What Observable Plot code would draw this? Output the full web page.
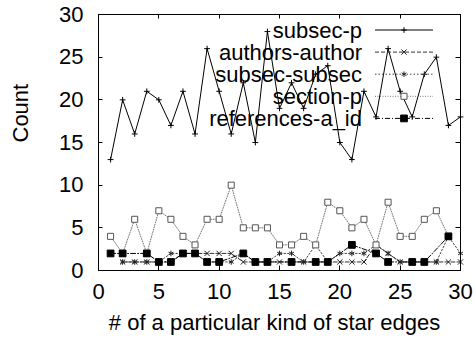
<!DOCTYPE html>
<html><head><meta charset="utf-8">
<script src="https://cdn.jsdelivr.net/npm/d3@7"></script>
<script src="https://cdn.jsdelivr.net/npm/@observablehq/plot@0.6"></script>
<style>body{margin:0;background:#fff} svg{display:block}</style>
</head><body><div id="chart"></div>
<script>
// ---- data ----
const seriesNames = ["subsec-p", "authors-author", "subsec-subsec", "section-p", "references-a_id"];

const subsecPX = [1,2,3,4,5,6,7,8,9,10,11,12,13,14,15,16,17,18,19,20,21,22,23,24,25,26,27,28,29,30];
const subsecP  = [13,20,16,21,20,17,21,16,26,21,16,22,15,28,19,22,19,23,24,15,13,21,18,26,21,18,23,25,17,18];

const authorsX = [2,3,4,5,6,7,8,9,10,11,12,13,14,15,16,17,18,19,20,21,22,23,24,25,26,27,28,29,30];
const authors  = [1,1,1,1,1,2,2,2,2,2,1,1,1,1,1,1,1,1,1,1,1,3,2,1,1,1,1,1,1];

const subsecSubX = [2,3,4,5,6,7,8,9,10,11,12,13,14,15,16,17,18,19,20,21,22,23,24,25,26,27,28,29,30];
const subsecSub  = [1,1,1,1,2,2,2,1,1,1,2,1,1,2,2,1,3,1,2,2,2,3,2,1,1,1,1,4,2];

const sectionPX = [1,2,3,4,5,6,7,8,9,10,11,12,13,14,15,16,17,18,19,20,21,22,23,24,25,26,27,28,29];
const sectionP  = [4,2,6,2,7,6,4,3,6,6,10,5,5,5,3,3,4,3,8,7,5,6,3,8,4,4,6,7,4];

const refsX = [1,2,4,5,6,7,8,9,10,12,13,14,16,18,19,21,23,24,26,27,29];
const refs  = [2,2,2,1,1,2,2,1,1,2,1,1,1,1,1,3,2,1,1,1,4];

const xTicks = [0,5,10,15,20,25,30];
const yTicks = [0,5,10,15,20,25,30];
const xLabel = "# of a particular kind of star edges";
const yLabel = "Count";

// ---- styles ----
const seriesX = [subsecPX, authorsX, subsecSubX, sectionPX, refsX];
const seriesY = [subsecP, authors, subsecSub, sectionP, refs];
const styles = [
  {stroke: "#000", dash: null,        symbol: "plus",     r: 2,   mstroke: "#000", mfill: "none"},
  {stroke: "#333", dash: "4,2",       symbol: "times",    r: 2.5, mstroke: "#222", mfill: "none"},
  {stroke: "#444", dash: "1.5,2",     symbol: "asterisk", r: 2.6, mstroke: "#222", mfill: "none"},
  {stroke: "#777", dash: "1,1.5",     symbol: "square",   r: 3.4, mstroke: "#555", mfill: "#fff"},
  {stroke: "#000", dash: "5,2,1,2",   symbol: "square",   r: 3.8, mstroke: "#000", mfill: "#000"}
];
const d3Symbols = {plus: d3.symbolPlus, times: d3.symbolTimes, asterisk: d3.symbolAsterisk, square: d3.symbolSquare};

const tables = seriesNames.map((name, i) => seriesX[i].map((x, j) => ({series: name, x, y: seriesY[i][j]})));

const marks = [];
tables.forEach((rows, i) => {
  const s = styles[i];
  marks.push(Plot.line(rows, {x: "x", y: "y", stroke: s.stroke, strokeWidth: 1, strokeDasharray: s.dash}));
});
tables.forEach((rows, i) => {
  const s = styles[i];
  marks.push(Plot.dot(rows, {x: "x", y: "y", symbol: () => s.symbol, r: s.r, stroke: s.mstroke, fill: s.mfill, strokeWidth: 1}));
});

// inward ticks on all four sides, from the plot scales
function ticksMark(index, scales, values, dim) {
  const g = d3.create("svg:g").attr("stroke", "#000").attr("stroke-width", 1);
  const L = dim.marginLeft, R = dim.width - dim.marginRight, T = dim.marginTop, B = dim.height - dim.marginBottom;
  const len = 4.5;
  for (const t of xTicks) {
    const x = Math.round(scales.x(t)) + 0.5;
    g.append("line").attr("x1", x).attr("x2", x).attr("y1", B).attr("y2", B - len);
    g.append("line").attr("x1", x).attr("x2", x).attr("y1", T).attr("y2", T + len);
  }
  for (const t of yTicks) {
    const y = Math.round(scales.y(t)) + 0.5;
    g.append("line").attr("y1", y).attr("y2", y).attr("x1", L).attr("x2", L + len);
    g.append("line").attr("y1", y).attr("y2", y).attr("x1", R).attr("x2", R - len);
  }
  return g.node();
}

// legend inside the frame, top right
function legendMark(index, scales, values, dim) {
  const g = d3.create("svg:g");
  const R = dim.width - dim.marginRight;
  const textX = R - 98, lineX1 = R - 85, lineX2 = R - 27, symX = R - 56;
  seriesNames.forEach((name, i) => {
    const s = styles[i];
    const y = dim.marginTop + 16 + i * 22.1;
    g.append("text").attr("x", textX).attr("y", y).attr("dy", "0.35em")
      .attr("text-anchor", "end").attr("fill", "#000").text(name);
    g.append("line").attr("x1", lineX1).attr("x2", lineX2).attr("y1", y).attr("y2", y)
      .attr("stroke", s.stroke).attr("stroke-dasharray", s.dash);
    const size = Math.PI * s.r * s.r;
    g.append("path").attr("d", d3.symbol(d3Symbols[s.symbol], size)())
      .attr("transform", `translate(${symX},${y})`)
      .attr("stroke", s.mstroke).attr("fill", s.mfill);
  });
  return g.node();
}

const chart = Plot.plot({
  width: 475,
  height: 339,
  marginLeft: 98,
  marginRight: 15,
  marginTop: 14,
  marginBottom: 69,
  style: {fontFamily: "'Liberation Sans', Arial, Helvetica, sans-serif", fontSize: "22px", color: "#000", background: "#fff"},
  x: {domain: [0, 30], label: null},
  y: {domain: [0, 30], label: null},
  marks: [
    ...marks,
    Plot.axisX({ticks: xTicks, tickSize: 0, tickPadding: 13, label: null, fontSize: 22}),
    Plot.axisY({ticks: yTicks, tickSize: 0, tickPadding: 15, label: null, fontSize: 22}),
    Plot.frame({stroke: "#000", strokeWidth: 1}),
    ticksMark,
    legendMark,
    Plot.text([xLabel], {text: d => d, frameAnchor: "bottom", lineAnchor: "bottom", dy: 59, dx: -5, fontSize: 22, fill: "#000"}),
    Plot.text([yLabel], {text: d => d, frameAnchor: "left", rotate: -90, dx: -78, fontSize: 22, fill: "#000"})
  ]
});
document.getElementById("chart").appendChild(chart);
</script>
</body></html>
